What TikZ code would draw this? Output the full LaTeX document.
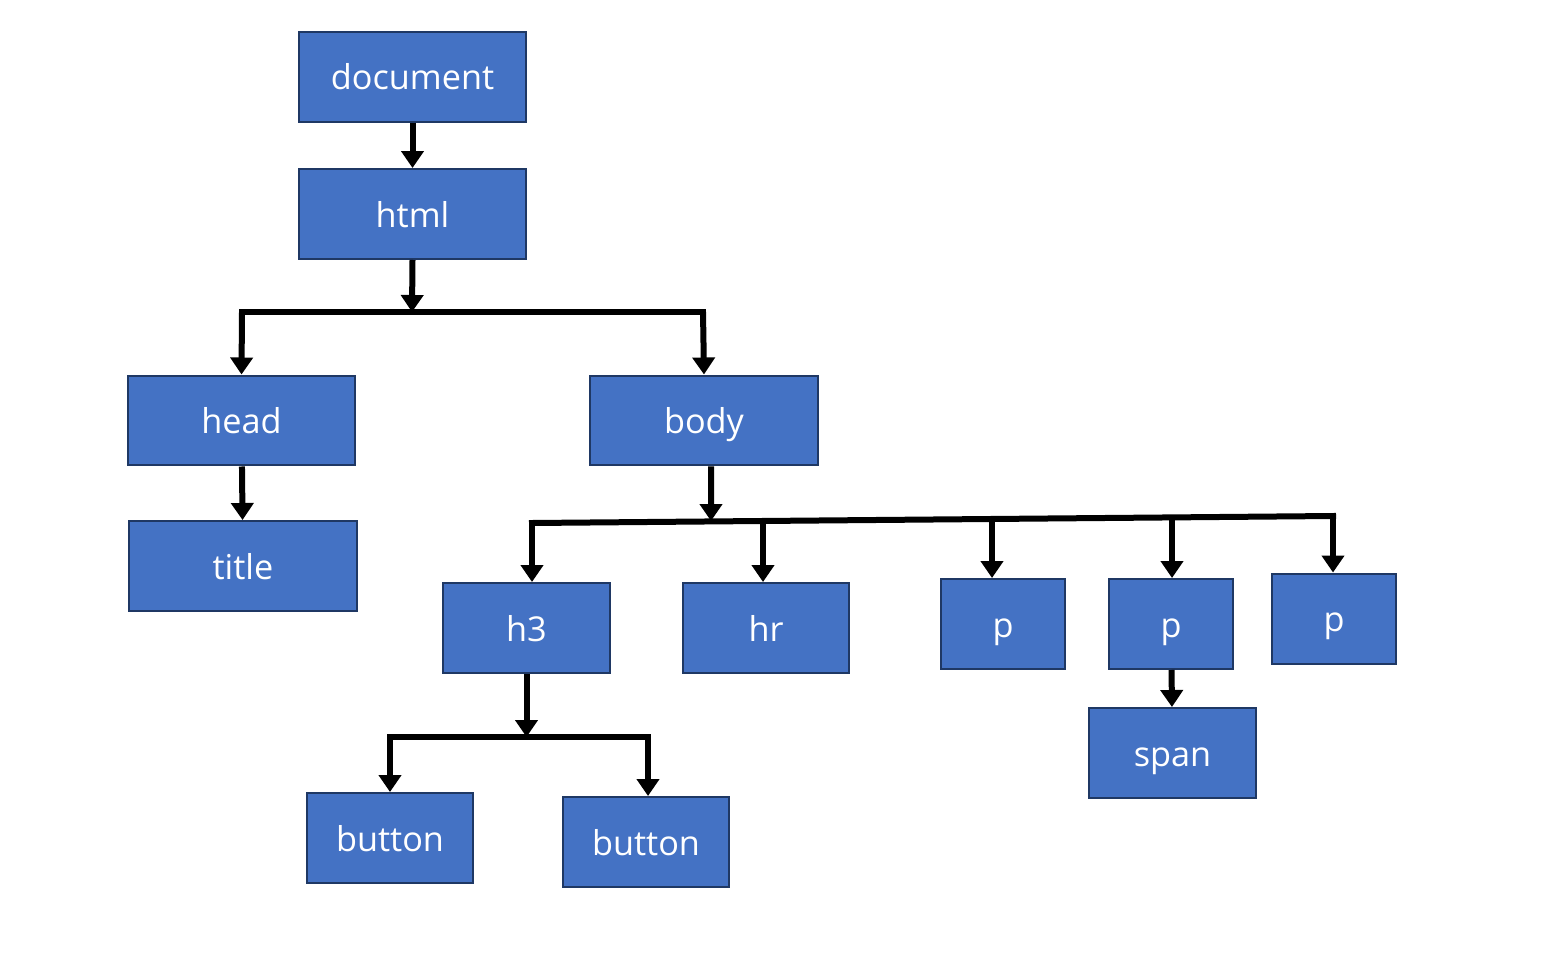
\documentclass[tikz,border=0pt]{standalone}
\usepackage{fontspec}
\setmainfont{Open Sans}
\usetikzlibrary{arrows.meta}
\definecolor{boxblue}{HTML}{4472C4}
\definecolor{boxline}{HTML}{1F3864}
\begin{document}
\begin{tikzpicture}[x=0.02cm,y=-0.02cm,
  box/.style={draw=boxline,line width=0.04cm,fill=boxblue,text=white,inner sep=0pt,
    minimum height=1.8cm,text height=0.56cm,text depth=0.04cm,font=\fontsize{19.5}{19.5}\selectfont},
  arr/.style={line width=0.12cm,-{Triangle[length=0.34cm,width=0.44cm]}},
  bus/.style={line width=0.12cm,line cap=rect}]
\useasboundingbox (0,0) rectangle (1551,977);

\node[box,minimum width=4.54cm] (document) at (412.5,77) {document};
\node[box,minimum width=4.54cm] (html) at (412.5,214) {html};
\node[box,minimum width=4.54cm] (head) at (241.5,420.5) {head};
\node[box,minimum width=4.56cm] (title) at (243,566) {title};
\node[box,minimum width=4.56cm] (body) at (704,420.5) {body};
\node[box,minimum width=3.34cm] (h3) at (526.5,628) {h3};
\node[box,minimum width=3.32cm] (hr) at (766,628) {hr};
\node[box,minimum width=2.48cm] (p1) at (1003,624) {p};
\node[box,minimum width=2.48cm] (p2) at (1171,624) {p};
\node[box,minimum width=2.48cm] (p3) at (1334,618.5) {p};
\node[box,minimum width=3.34cm] (span) at (1172.5,753) {span};
\node[box,minimum width=3.32cm] (button1) at (390,838) {button};
\node[box,minimum width=3.32cm] (button2) at (646,842) {button};

% document / html
\draw[arr] (document) -- (html);
\coordinate (hb) at (412,312);
\coordinate (hl) at (242,312);
\coordinate (hr0) at (703,312);
\draw[arr] (html.south) -- (hb);
\draw[bus] (hl) -- (hr0);
\draw[arr] (hl) -- (head.north);
\draw[arr] (hr0) -- (body.north);
\draw[arr] (head) -- (title);

% body children
\coordinate (bb) at (711,521);
\coordinate (d1) at (532,523);
\coordinate (d2) at (763,521);
\coordinate (d3) at (992,519);
\coordinate (d4) at (1172,518);
\coordinate (d5) at (1333,516);
\draw[arr] ([xshift=0.14cm]body.south) -- (bb);
\draw[bus] (d1) -- (d5);
\foreach \d/\n in {d1/h3,d2/hr,d3/p1,d4/p2,d5/p3}
  \draw[arr] (\d) -- (\d |- \n.north);
\draw[arr] (p2) -- (span);

% h3 children
\coordinate (tb) at (526,737);
\coordinate (tl) at (390,737);
\coordinate (tr) at (648,737);
\draw[arr] (h3.south) -- (h3.south |- tb);
\draw[bus] (tl) -- (tr);
\draw[arr] (tl) -- (tl |- button1.north);
\draw[arr] (tr) -- (tr |- button2.north);
\end{tikzpicture}
\end{document}
